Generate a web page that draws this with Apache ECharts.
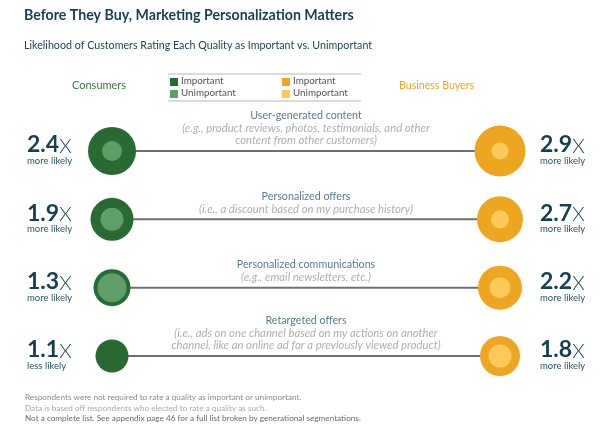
<!DOCTYPE html>
<html><head><meta charset="utf-8">
<script src="https://cdn.jsdelivr.net/npm/echarts@6/dist/echarts.min.js"></script>
<style>html,body{margin:0;padding:0;background:#fff}#c{width:600px;height:428px}</style>
</head><body><div id="c"></div>
<script>
const qualities = ['User-generated content','Personalized offers','Personalized communications','Retargeted offers'];
const qualityNotes = [
  ['(e.g., product reviews, photos, testimonials, and other','content from other customers)'],
  ['(i.e., a discount based on my purchase history)'],
  ['(e.g., email newsletters, etc.)'],
  ['(i.e., ads on one channel based on my actions on another','channel, like an online ad for a previously viewed product)']
];
const consumerRatio = [2.4, 1.9, 1.3, 1.1];
const consumerDirection = ['more likely','more likely','more likely','less likely'];
const businessRatio = [2.9, 2.7, 2.2, 1.8];
const businessDirection = ['more likely','more likely','more likely','more likely'];
// relative circle scores (diameter units)
const consumerImportant = [48, 43, 37, 33];
const consumerUnimportant = [20, 23, 29, 0];
const businessImportant = [51, 46, 44, 40];
const businessUnimportant = [17, 18, 21, 23];
const sides = ['Consumers', 'Quality', 'Business Buyers'];

const C = {dg:'#276a32', lg:'#5e9f69', do:'#eea620', lo:'#fcc95a', teal:'#173f50'};
const FONT = 'Lato, "Open Sans", sans-serif';

function ratioLabel(vals, dirs){
  return function(v, i){ return '{n|' + vals[i].toFixed(1) + '}{x|X}\n{s|' + dirs[i] + '}'; };
}
const ratioRich = {
  n:{fontSize:23, fontWeight:'bold', color:C.teal, fontFamily:FONT, lineHeight:20, verticalAlign:'bottom'},
  x:{fontSize:20, fontWeight:300, color:C.teal, fontFamily:'"DejaVu Sans ExtraLight", Lato, sans-serif', lineHeight:20, verticalAlign:'bottom'},
  s:{fontSize:9.5, color:'#2b5466', fontFamily:FONT, lineHeight:9}
};

const series = [];
qualities.forEach((q, i) => {
  series.push({type:'line', xAxisIndex:0, yAxisIndex:0, symbol:'none', silent:true, z:1,
    lineStyle:{color:'#6f6f6f', width:2},
    data:[[sides[0], q],[sides[2], q]]});
});
series.push({type:'scatter', name:'Consumers Important', z:3, data: qualities.map((q,i)=>[sides[0], q, consumerImportant[i]]),
  symbolSize: d => d[2], itemStyle:{color:C.dg, opacity:1}});
series.push({type:'scatter', name:'Consumers Unimportant', z:4, data: qualities.map((q,i)=>[sides[0], q, consumerUnimportant[i]]),
  symbolSize: d => d[2], itemStyle:{color:C.lg, opacity:1}});
series.push({type:'scatter', name:'Business Important', z:3, data: qualities.map((q,i)=>[sides[2], q, businessImportant[i]]),
  symbolSize: d => d[2], itemStyle:{color:C.do, opacity:1}});
series.push({type:'scatter', name:'Business Unimportant', z:4, data: qualities.map((q,i)=>[sides[2], q, businessUnimportant[i]]),
  symbolSize: d => d[2], itemStyle:{color:C.lo, opacity:1}});
series.push({type:'scatter', name:'Descriptions', z:5, symbolSize:0, silent:true,
  data: qualities.map((q,i)=>[sides[1], q]),
  label:{show:true, position:'top', distance:4, align:'center',
    formatter: p => '{t|' + qualities[p.dataIndex] + '}\n' + qualityNotes[p.dataIndex].map(l => '{d|' + l + '}').join('\n'),
    rich:{
      t:{fontSize:10.7, color:'#2d5a6e', fontFamily:FONT, lineHeight:12.5, align:'center'},
      d:{fontSize:11.3, fontStyle:'italic', color:'#9a9a9a', fontFamily:FONT, lineHeight:12.5, align:'center'}
    }}});

const option = {
  backgroundColor:'#fff',
  animation:false,
  title:[
    {text:'Before They Buy, Marketing Personalization Matters', left:24, top:8, padding:0,
      textStyle:{fontSize:14.2, fontWeight:'bold', color:'#173f4f', fontFamily:FONT}},
    {text:'Likelihood of Customers Rating Each Quality as Important vs. Unimportant', left:24, top:40, padding:0,
      textStyle:{fontSize:10.7, fontWeight:'normal', color:'#1d4352', fontFamily:FONT}},
    {text:'Consumers', left:72, top:80, padding:0, textStyle:{fontSize:11, fontWeight:'normal', color:'#3b7a3e', fontFamily:FONT}},
    {text:'Business Buyers', left:399, top:80, padding:0, textStyle:{fontSize:10.6, fontWeight:'normal', color:'#f0a323', fontFamily:FONT}},
    {text:'Respondents were not required to rate a quality as important or unimportant.', left:25, top:393, padding:0,
      textStyle:{fontSize:8.2, fontWeight:'normal', color:'#8a8a8a', fontFamily:FONT}},
    {text:'Data is based off respondents who elected to rate a quality as such.', left:25, top:404, padding:0,
      textStyle:{fontSize:8.2, fontWeight:'normal', color:'#ababab', fontFamily:FONT}},
    {text:'Not a complete list. See appendix page 46 for a full list broken by generational segmentations.', left:25, top:414, padding:0,
      textStyle:{fontSize:8.2, fontWeight:'normal', color:'#6a6a6a', fontFamily:FONT}}
  ],
  grid:{left:112, right:100, top:151, bottom:72},
  xAxis:{type:'category', data:sides, boundaryGap:false, show:false},
  yAxis:[
    {type:'category', data:qualities, inverse:true, boundaryGap:false, position:'left',
      axisLine:{show:false}, axisTick:{show:false}, splitLine:{show:false},
      axisLabel:{margin:85, align:'left', formatter: ratioLabel(consumerRatio, consumerDirection), rich:ratioRich}},
    {type:'category', data:qualities, inverse:true, boundaryGap:false, position:'right',
      axisLine:{show:false}, axisTick:{show:false}, splitLine:{show:false},
      axisLabel:{margin:40, align:'left', formatter: ratioLabel(businessRatio, businessDirection), rich:ratioRich}}
  ],
  graphic:[
    {type:'line', shape:{x1:168, y1:74, x2:361, y2:74}, style:{stroke:'#cfcfcf', lineWidth:1.5}},
    {type:'line', shape:{x1:168, y1:101, x2:361, y2:101}, style:{stroke:'#cfcfcf', lineWidth:1.5}},
    {type:'rect', shape:{x:170, y:78, width:8, height:8}, style:{fill:C.dg}},
    {type:'rect', shape:{x:170, y:90, width:8, height:8}, style:{fill:C.lg}},
    {type:'rect', shape:{x:282, y:78, width:8, height:8}, style:{fill:C.do}},
    {type:'rect', shape:{x:282, y:90, width:8, height:8}, style:{fill:C.lo}},
    {type:'text', x:181, y:76, style:{text:'Important', fontSize:9.8, fill:'#555', fontFamily:FONT}},
    {type:'text', x:181, y:88, style:{text:'Unimportant', fontSize:9.8, fill:'#555', fontFamily:FONT}},
    {type:'text', x:293, y:76, style:{text:'Important', fontSize:9.8, fill:'#555', fontFamily:FONT}},
    {type:'text', x:293, y:88, style:{text:'Unimportant', fontSize:9.8, fill:'#555', fontFamily:FONT}}
  ],
  series: series
};
const chart = echarts.init(document.getElementById('c'), null, {renderer:'canvas'});
chart.setOption(option);
</script></body></html>
